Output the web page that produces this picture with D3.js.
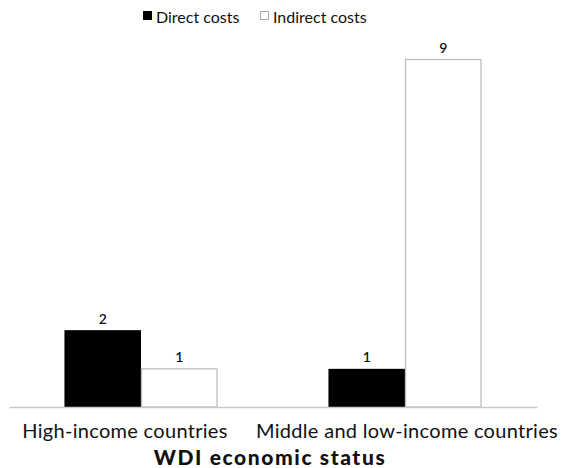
<!DOCTYPE html>
<html>
<head>
<meta charset="utf-8">
<script src="https://cdn.jsdelivr.net/npm/d3@7/dist/d3.min.js"></script>
<style>
  html, body { margin: 0; padding: 0; background: #fff; }
  svg { display: block; font-family: Lato, "Open Sans", sans-serif; }
</style>
</head>
<body>
<svg id="chart" width="565" height="468"></svg>
<script>
// Cost counts by WDI economic status
const categories = ["High-income countries", "Middle and low-income countries"];
const seriesNames = ["Direct costs", "Indirect costs"];
const directCosts = [2, 1];
const indirectCosts = [1, 9];

const seriesValues = [directCosts, indirectCosts];
const fills = ["#000000", "#ffffff"];
const strokes = ["#000000", "#bdbdbd"];

const svg = d3.select("#chart");
const plot = { left: 9, right: 537, top: 59, bottom: 407 };

const x0 = d3.scaleBand()
  .domain(categories)
  .range([plot.left, plot.right])
  .paddingInner(0.42)
  .paddingOuter(0.21);

const x1 = d3.scaleBand()
  .domain(seriesNames)
  .range([0, x0.bandwidth()])
  .padding(0);

const y = d3.scaleLinear()
  .domain([0, d3.max(seriesValues.flat())])
  .range([plot.bottom, plot.top]);

const rows = [];
categories.forEach((c, i) => {
  seriesNames.forEach((s, j) => {
    rows.push({ cat: c, series: s, si: j, value: seriesValues[j][i] });
  });
});

const groups = svg.append("g");

groups.selectAll("rect.bar")
  .data(rows)
  .join("rect")
  .attr("class", "bar")
  .attr("x", d => x0(d.cat) + x1(d.series) + (d.si === 1 ? 0.5 : 0))
  .attr("y", d => y(d.value) + 0.5)
  .attr("width", d => x1.bandwidth() - (d.si === 1 ? 1 : 0))
  .attr("height", d => y(0) - y(d.value) - 0.5)
  .attr("fill", d => fills[d.si])
  .attr("stroke", d => strokes[d.si])
  .attr("stroke-width", d => d.si === 1 ? 1.3 : 0);

// value labels above each bar
groups.selectAll("text.val")
  .data(rows)
  .join("text")
  .attr("class", "val")
  .attr("x", d => x0(d.cat) + x1(d.series) + x1.bandwidth() / 2)
  .attr("y", d => y(d.value) - 6)
  .attr("text-anchor", "middle")
  .attr("font-size", 14)
  .attr("font-weight", 600)
  .attr("fill", "#111")
  .text(d => d.value);

// category axis
const xAxis = d3.axisBottom(x0).tickSize(0).tickPadding(17);
const ax = svg.append("g")
  .attr("transform", `translate(0,${plot.bottom})`)
  .call(xAxis);
ax.select(".domain").attr("stroke", "#c8c8c8").attr("stroke-width", 1.5);
ax.selectAll("text")
  .attr("font-size", 20)
  .attr("letter-spacing", 0.3)
  .attr("fill", "#111")
  .attr("font-family", "Lato, 'Open Sans', sans-serif")
  .attr("dx", (d, i) => i === 0 ? -16 : 2);

// axis title
svg.append("text")
  .attr("x", 270)
  .attr("y", 465)
  .attr("text-anchor", "middle")
  .attr("font-size", 21)
  .attr("font-weight", 900)
  .attr("letter-spacing", 1.6)
  .attr("fill", "#111")
  .text("WDI economic status");

// legend
const legendItems = [
  { name: seriesNames[0], si: 0, x: 143 },
  { name: seriesNames[1], si: 1, x: 260 }
];
const lg = svg.append("g");
lg.selectAll("rect")
  .data(legendItems)
  .join("rect")
  .attr("x", d => d.x + 0.5)
  .attr("y", 11.5)
  .attr("width", 8)
  .attr("height", 8)
  .attr("fill", d => fills[d.si])
  .attr("stroke", d => d.si === 1 ? "#aaa" : "#000")
  .attr("stroke-width", 1);
lg.selectAll("text")
  .data(legendItems)
  .join("text")
  .attr("x", d => d.x + 13)
  .attr("y", 23)
  .attr("font-size", 16)
  .attr("fill", "#111")
  .text(d => d.name);
</script>
</body>
</html>
